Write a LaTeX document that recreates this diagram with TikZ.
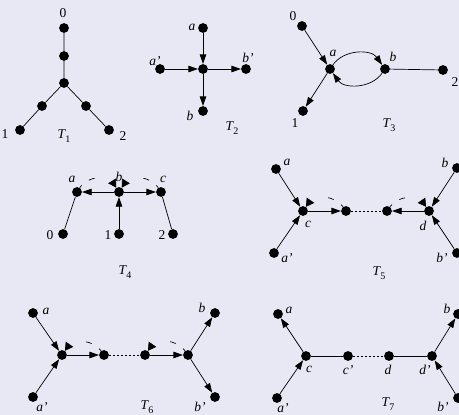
\documentclass[tikz,border=0pt]{standalone}
\usepackage{fontspec}
\setmainfont{Liberation Serif}
\usetikzlibrary{arrows.meta}
\definecolor{bg}{RGB}{232,232,244}
\newcommand\Tsub[1]{\textit{T}\kern-0.5pt\raisebox{-3.8pt}{\fontsize{10}{10}\selectfont #1}}
\begin{document}
\begin{tikzpicture}[x=1pt,y=-1pt,
  dot/.style={circle,fill=black,inner sep=0pt,minimum size=9.8pt},
  lbl/.style={inner sep=0pt,font=\fontsize{13.5}{13.5}\selectfont\itshape},
  num/.style={inner sep=0pt,font=\fontsize{13.5}{13.5}\selectfont},
  ln/.style={line width=0.7pt},
  arr/.style={ln,-{Triangle[length=9.5pt,width=6.5pt]}},
  dotline/.style={ln,dash pattern=on 2pt off 2pt},
  darc/.style={ln,dash pattern=on 3pt off 9pt on 6pt off 40pt,-{Triangle[length=8pt,width=9pt]}},
]
\fill[bg] (0,0) rectangle (459,415);
\useasboundingbox (0,0) rectangle (459,415);

% ---------- T1 ----------
\node[dot] (t1z) at (64,28) {};
\node[dot] (t1m) at (64,56) {};
\node[dot] (t1c) at (64,83) {};
\node[dot] (t1l) at (42,106) {};
\node[dot] (t1r) at (86,106) {};
\node[dot] (t1o) at (20,130) {};
\node[dot] (t1t) at (109,130) {};
\draw[ln] (t1z) -- (t1m) -- (t1c) -- (t1l) -- (t1o);
\draw[ln] (t1c) -- (t1r) -- (t1t);
\node[num] (l1z) at (63,13) {0};
\node[num] (l1o) at (5,134) {1};
\node[num] (l1t) at (123,136) {2};
\node[num] (l1T) at (64,136) {\Tsub{1}};

% ---------- T2 ----------
\node[dot] (t2a) at (203,28) {};
\node[dot] (t2c) at (203,69) {};
\node[dot] (t2ap) at (160,69) {};
\node[dot] (t2bp) at (246,69) {};
\node[dot] (t2b) at (203,111) {};
\draw[arr] (t2a) -- (t2c);
\draw[arr] (t2ap) -- (t2c);
\draw[arr] (t2c) -- (t2bp);
\draw[arr] (t2c) -- (t2b);
\node[lbl] (l2a) at (192,27) {a};
\node[lbl] (l2ap) at (155,61) {a'};
\node[lbl] (l2bp) at (248,58) {b'};
\node[lbl] (l2b) at (190,116) {b};
\node[num] (l2T) at (232,128) {\Tsub{2}};

% ---------- T3 ----------
\node[dot] (t3z) at (302,26) {};
\node[dot] (t3a) at (330,69) {};
\node[dot] (t3b) at (385,69) {};
\node[dot] (t3t) at (443,70) {};
\node[dot] (t3o) at (303,111) {};
\draw[arr] (t3z) -- (t3a);
\draw[arr] (t3a) -- (t3o);
\draw[arr] (t3a) to[bend left=55] (t3b);
\draw[arr] (t3b) to[bend left=55] (t3a);
\draw[ln] (t3b) -- (t3t);
\node[num] (l3z) at (293,16) {0};
\node[lbl] (l3a) at (333,53) {a};
\node[lbl] (l3b) at (393,57) {b};
\node[num] (l3t) at (455,82) {2};
\node[num] (l3o) at (295,123) {1};
\node[num] (l3T) at (389,125) {\Tsub{3}};

% ---------- T4 ----------
\node[dot] (t4a) at (77,192) {};
\node[dot] (t4b) at (119,192) {};
\node[dot] (t4c) at (161,192) {};
\node[dot] (t4z) at (63,234) {};
\node[dot] (t4o) at (119,234) {};
\node[dot] (t4t) at (173,234) {};
\draw[ln] (t4z) -- (t4a);
\draw[ln] (t4c) -- (t4t);
\draw[arr] (t4b) -- (t4a);
\draw[arr] (t4b) -- (t4c);
\draw[arr] (t4o) -- (t4b);
\draw[darc] (t4a) to[bend left=58] (t4b);
\draw[darc] (t4c) to[bend right=58] (t4b);
\node[lbl] (l4a) at (72,179) {a};
\node[lbl] (l4b) at (119,177) {b};
\node[lbl] (l4c) at (163,179) {c};
\node[num] (l4z) at (50,235) {0};
\node[num] (l4o) at (108,235) {1};
\node[num] (l4t) at (162,235) {2};
\node[num] (l4T) at (125,272) {\Tsub{4}};

% ---------- T5 ----------
\node[dot] (t5a) at (276,169) {};
\node[dot] (t5c) at (303,211) {};
\node[dot] (t5ap) at (274,253) {};
\node[dot] (t5cp) at (346,211) {};
\node[dot] (t5dp) at (387,211) {};
\node[dot] (t5d) at (429,211) {};
\node[dot] (t5b) at (457,168) {};
\node[dot] (t5bp) at (457,253) {};
\draw[arr] (t5a) -- (t5c);
\draw[arr] (t5ap) -- (t5c);
\draw[arr] (t5c) -- (t5cp);
\draw[dotline] (t5cp) -- (t5dp);
\draw[arr] (t5d) -- (t5dp);
\draw[arr] (t5b) -- (t5d);
\draw[arr] (t5bp) -- (t5d);
\draw[darc] (t5cp) to[bend right=55] (t5c);
\draw[darc] (t5dp) to[bend left=55] (t5d);
\node[lbl] (l5a) at (287,162) {a};
\node[lbl] (l5c) at (308,224) {c};
\node[lbl] (l5ap) at (287,258) {a'};
\node[lbl] (l5d) at (423,226) {d};
\node[lbl] (l5b) at (445,163) {b};
\node[lbl] (l5bp) at (442,258) {b'};
\node[num] (l5T) at (379,273) {\Tsub{5}};

% ---------- T6 ----------
\node[dot] (t6a) at (33,313) {};
\node[dot] (t6c) at (62,355) {};
\node[dot] (t6ap) at (33,397) {};
\node[dot] (t6cp) at (104,355) {};
\node[dot] (t6d) at (145,355) {};
\node[dot] (t6dp) at (188,355) {};
\node[dot] (t6b) at (215,313) {};
\node[dot] (t6bp) at (215,397) {};
\draw[arr] (t6a) -- (t6c);
\draw[arr] (t6ap) -- (t6c);
\draw[arr] (t6c) -- (t6cp);
\draw[dotline] (t6cp) -- (t6d);
\draw[arr] (t6d) -- (t6dp);
\draw[arr] (t6dp) -- (t6b);
\draw[arr] (t6dp) -- (t6bp);
\draw[darc] (t6cp) to[bend right=55] (t6c);
\draw[darc] (t6dp) to[bend right=55] (t6d);
\node[lbl] (l6a) at (46,311) {a};
\node[lbl] (l6ap) at (42,407) {a'};
\node[lbl] (l6b) at (202,308) {b};
\node[lbl] (l6bp) at (200,407) {b'};
\node[num] (l6T) at (147,407) {\Tsub{6}};

% ---------- T7 ----------
\node[dot] (t7a) at (278,314) {};
\node[dot] (t7c) at (306,356) {};
\node[dot] (t7ap) at (277,398) {};
\node[dot] (t7cp) at (348,356) {};
\node[dot] (t7d) at (389,356) {};
\node[dot] (t7dp) at (432,356) {};
\node[dot] (t7b) at (458,314) {};
\node[dot] (t7bp) at (458,398) {};
\draw[arr] (t7c) -- (t7a);
\draw[arr] (t7ap) -- (t7c);
\draw[ln] (t7c) -- (t7cp);
\draw[dotline] (t7cp) -- (t7d);
\draw[ln] (t7d) -- (t7dp);
\draw[arr] (t7dp) -- (t7b);
\draw[arr] (t7bp) -- (t7dp);
\node[lbl] (l7a) at (289,310) {a};
\node[lbl] (l7c) at (309,369) {c};
\node[lbl] (l7ap) at (283,408) {a'};
\node[lbl] (l7cp) at (348,370) {c'};
\node[lbl] (l7d) at (388,370) {d};
\node[lbl] (l7dp) at (425,370) {d'};
\node[lbl] (l7b) at (447,309) {b};
\node[lbl] (l7bp) at (443,407) {b'};
\node[num] (l7T) at (388,404) {\Tsub{7}};
\end{tikzpicture}
\end{document}
